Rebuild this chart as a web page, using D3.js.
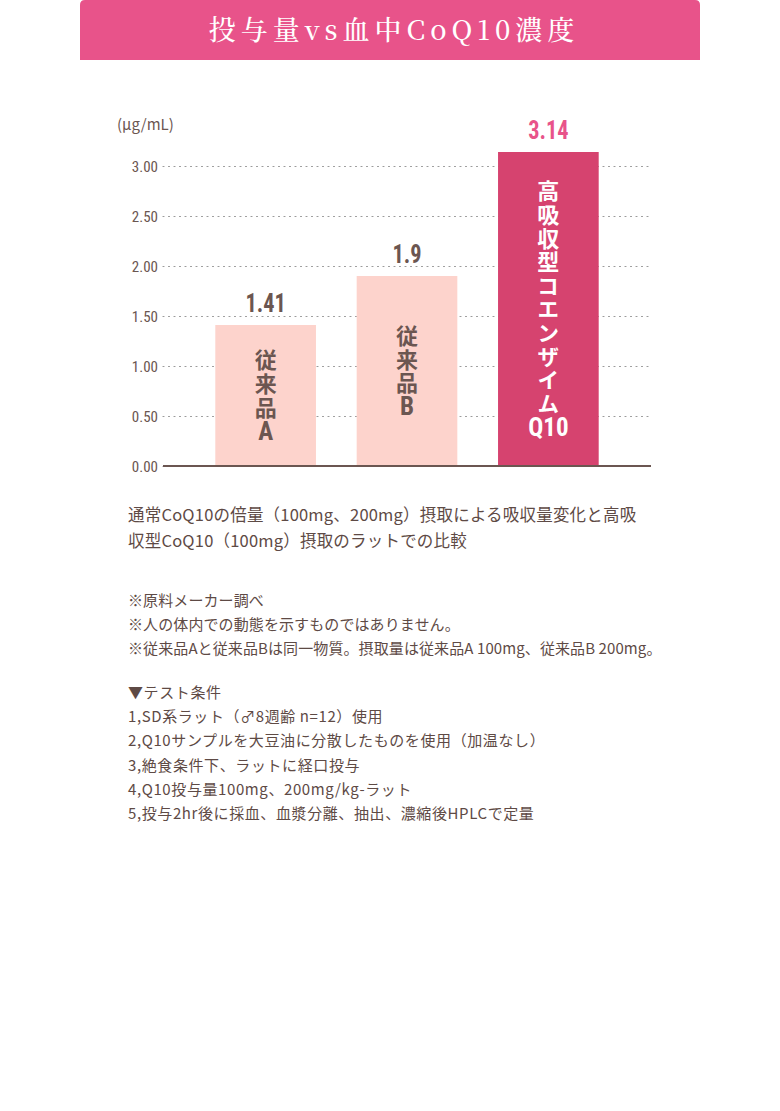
<!DOCTYPE html>
<html lang="ja">
<head>
<meta charset="utf-8">
<script src="https://cdn.jsdelivr.net/npm/d3@7"></script>
<style>
  body { margin: 0; background: #fff; }
  svg { display: block; }
</style>
</head>
<body>
<div id="chart"></div>
<script>
// data
const categories = ["従来品A", "従来品B", "高吸収型コエンザイムQ10"];
const values = [1.41, 1.9, 3.14];
const valueLabels = ["1.41", "1.9", "3.14"];
const barNames = ["従来品", "従来品", "高吸収型コエンザイム"];
const barCodes = ["A", "B", "Q10"];
const yTicks = [0, 0.5, 1, 1.5, 2, 2.5, 3];
const titleText = "投与量vs血中CoQ10濃度";
const unitText = "(µg/mL)";
const captionLines = ["通常CoQ10の倍量（100mg、200mg）摂取による吸収量変化と高吸",
    "収型CoQ10（100mg）摂取のラットでの比較"];
const noteLines = ["※原料メーカー調べ", "※人の体内での動態を示すものではありません。",
    "※従来品Aと従来品Bは同一物質。摂取量は従来品A 100mg、従来品B 200mg。"];
const conditionLines = ["▼テスト条件", "1,SD系ラット（♂8週齢 n=12）使用",
    "2,Q10サンプルを大豆油に分散したものを使用（加温なし）",
    "3,絶食条件下、ラットに経口投与", "4,Q10投与量100mg、200mg/kg-ラット",
    "5,投与2hr後に採血、血漿分離、抽出、濃縮後HPLCで定量"];

const width = 780, height = 1111;
const brown = "#6b5651";
const pink = "#e8538a";
const barFill = ["#fdd3cc", "#fdd3cc", "#d6436f"];
const condensed = "'Roboto Condensed', 'DejaVu Sans Condensed', 'Liberation Sans Narrow', sans-serif";
const jp = "'Noto Sans CJK JP', 'Noto Sans', sans-serif";

let svg = d3.select("#chart").append("svg")
    .attr("width", width)
    .attr("height", height);

// title bar
svg.append("path")
    .attr("d", "M80,60 L80,5 Q80,0 85,0 L695,0 Q700,0 700,5 L700,60 Z")
    .attr("fill", pink);
svg.append("text")
    .attr("x", 394).attr("y", 40)
    .attr("text-anchor", "middle")
    .attr("fill", "#fff")
    .attr("font-family", "'Noto Serif CJK JP', 'DejaVu Serif', serif")
    .attr("font-size", 27)
    .attr("font-weight", 500)
    .attr("letter-spacing", 5)
    .text(titleText);

// scales
let x = d3.scaleBand()
    .domain(categories)
    .range([163, 651])
    .paddingInner(0.288)
    .paddingOuter(0.37);

let y = d3.scaleLinear()
    .domain([0, 3])
    .range([466, 166]);

// grid
let yAxis = d3.axisLeft(y)
    .tickValues(yTicks)
    .tickFormat(d3.format(".2f"))
    .tickSize(-487)
    .tickPadding(5);

let axisG = svg.append("g")
    .attr("transform", "translate(163,0)")
    .call(yAxis);
axisG.select(".domain").remove();
axisG.selectAll(".tick line")
    .attr("stroke", "#9a9a9a")
    .attr("stroke-width", 1.2)
    .attr("stroke-dasharray", "1,4.5")
    .attr("stroke-linecap", "round");
axisG.selectAll(".tick text")
    .attr("fill", brown)
    .attr("font-family", condensed)
    .attr("font-size", 15)
    .attr("font-weight", "normal")
    .attr("dy", "0.35em");

svg.append("text")
    .attr("x", 117).attr("y", 130)
    .attr("fill", brown)
    .attr("font-family", jp)
    .attr("font-size", 15)
    .text(unitText);

// bars
svg.selectAll(".bar")
    .data(values)
    .join("rect")
    .attr("class", "bar")
    .attr("x", (d, i) => x(categories[i]))
    .attr("width", x.bandwidth())
    .attr("y", d => y(d))
    .attr("height", d => y(0) - y(d))
    .attr("fill", (d, i) => barFill[i]);

// baseline
svg.append("line")
    .attr("x1", 163).attr("x2", 651)
    .attr("y1", y(0)).attr("y2", y(0))
    .attr("stroke", brown)
    .attr("stroke-width", 2);

// value labels
svg.selectAll(".value")
    .data(values)
    .join("text")
    .attr("class", "value")
    .attr("transform", (d, i) => "translate(" + (x(categories[i]) + x.bandwidth() / 2) + "," + (y(d) - 13) + ") scale(0.86,1)")
    .attr("text-anchor", "middle")
    .attr("fill", (d, i) => i == 2 ? pink : brown)
    .attr("font-family", condensed)
    .attr("font-weight", "bold")
    .attr("font-size", 26)
    .text((d, i) => valueLabels[i]);

// names inside bars: vertical japanese + code underneath
let lineGap = 23.6;
barNames.forEach(function(name, i) {
    let n = name.length + 1;
    let cx = x(categories[i]) + x.bandwidth() / 2;
    let mid = (y(values[i]) + y(0)) / 2;
    let top = mid - (n - 1) * lineGap / 2;
    let col = i == 2 ? "#fff" : brown;
    svg.append("text")
        .attr("x", cx)
        .attr("y", top + (n - 2) * lineGap / 2 + 0.8)
        .attr("writing-mode", "vertical-rl")
        .attr("text-anchor", "middle")
        .attr("letter-spacing", lineGap - 22)
        .attr("fill", col)
        .attr("font-family", jp)
        .attr("font-weight", "bold")
        .attr("font-size", 22)
        .text(name);
    svg.append("text")
        .attr("x", cx)
        .attr("y", top + (n - 1) * lineGap + 9)
        .attr("text-anchor", "middle")
        .attr("fill", col)
        .attr("font-family", condensed)
        .attr("font-weight", "bold")
        .attr("font-size", 25)
        .text(barCodes[i]);
});

// texts below the chart
function writeLines(lines, top, size, gap, spacing) {
    svg.append("g").selectAll("text")
        .data(lines)
        .join("text")
        .attr("x", 128)
        .attr("y", (d, i) => top + i * gap)
        .attr("fill", "#5e4a45")
        .attr("font-family", jp)
        .attr("font-size", size)
        .attr("letter-spacing", spacing)
        .text(d => d);
}
writeLines(captionLines, 521, 16.5, 26, 0.2);
writeLines(noteLines, 606, 15, 23.8, 0.1);
writeLines(conditionLines, 698, 15, 24.2, 0.6);
</script>
</body>
</html>
